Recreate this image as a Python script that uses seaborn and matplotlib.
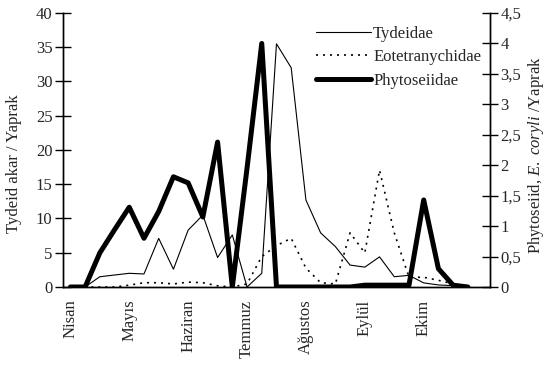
import numpy as np
import pandas as pd
import matplotlib
matplotlib.use("Agg")
import matplotlib.pyplot as plt
import seaborn as sns

# Weekly samples, April to October
weeks = list(range(29))
month_labels = ["Nisan", "Mayıs", "Haziran", "Temmuz", "Ağustos", "Eylül", "Ekim"]
month_weeks = [0, 4, 8, 12, 16, 20, 24]

# Tydeidae per leaf (left axis)
tydeidae = [0, 0, 1.5, 1.75, 2.0, 1.9, 7.1, 2.6, 8.3, 10.5, 4.3, 7.6, 0, 2.0,
            35.5, 32.0, 12.7, 7.9, 5.9, 3.2, 2.9, 4.4, 1.5, 1.7, 0.6, 0.3, 0.2,
            np.nan, np.nan]
# Eotetranychidae per leaf (right axis)
eotetranychidae = [0, 0, 0, 0, 0.03, 0.07, 0.07, 0.05, 0.08, 0.07, 0.02, 0,
                   0.05, 0.5, 0.68, 0.8, 0.31, 0.07, 0.05, 0.89, 0.56, 1.92,
                   0.89, 0.16, 0.16, 0.11, 0.05, np.nan, np.nan]
# Phytoseiidae per leaf (right axis)
phytoseiidae = [0, 0, 0.56, 0.94, 1.31, 0.80, 1.24, 1.81, 1.71, 1.15, 2.38, 0,
                1.95, 4.0, 0, 0, 0, 0, 0, 0, 0.03, 0.03, 0.03, 0.03, 1.43,
                0.3, 0.03, 0, np.nan]

df = pd.DataFrame({"week": weeks, "Tydeidae": tydeidae,
                   "Eotetranychidae": eotetranychidae,
                   "Phytoseiidae": phytoseiidae})

sns.set_style("white")
plt.rcParams["font.family"] = ["Liberation Serif", "DejaVu Serif"]
plt.rcParams["mathtext.fontset"] = "custom"
plt.rcParams["mathtext.it"] = "Liberation Serif:italic"
plt.rcParams["mathtext.rm"] = "Liberation Serif"

fig = plt.figure(figsize=(5.45, 3.65), dpi=100)
ax = fig.add_axes([0.1156, 0.2137, 0.899 - 0.1156, 0.9644 - 0.2137])
ax2 = ax.twinx()

sns.lineplot(data=df, x="week", y="Tydeidae", ax=ax, color="black",
             linewidth=0.8, label="Tydeidae", legend=False)
sns.lineplot(data=df, x="week", y="Eotetranychidae", ax=ax2, color="black",
             linewidth=1.2, linestyle=(0, (1.2, 3.0)), label="Eotetranychidae",
             legend=False)
sns.lineplot(data=df, x="week", y="Phytoseiidae", ax=ax2, color="black",
             linewidth=3.6, label="Phytoseiidae", legend=False)

ax.set_xlim(-0.5, 28.5)
ax.set_ylim(0, 40)
ax2.set_ylim(0, 4.5)

ax.set_yticks(np.arange(0, 41, 5))
ax.set_yticklabels([str(v) for v in range(0, 41, 5)], fontsize=12)
r_ticks = np.arange(0, 4.51, 0.5)
ax2.set_yticks(r_ticks)
ax2.set_yticklabels([("%g" % v).replace(".", ",") for v in r_ticks], fontsize=12)

ax.set_xticks(np.arange(-0.5, 28.6, 1.0))
ax.set_xticklabels([])
ax.set_xticks(month_weeks, minor=True)
ax.set_xticklabels(month_labels, minor=True, rotation=90, fontsize=12,
                   va="top", ha="center")
ax.tick_params(axis="x", which="major", direction="inout", length=11, width=1,
               color="black")
ax.tick_params(axis="x", which="minor", length=0, pad=9)
ax.tick_params(axis="y", direction="inout", length=11, width=1, color="black",
               pad=2)
ax2.tick_params(axis="y", direction="inout", length=11, width=1, color="black",
                pad=2)

ax.set_xlabel("")
ax.set_ylabel("Tydeid akar / Yaprak", fontsize=12)
ax.yaxis.set_label_coords(-0.096, 0.45)
ax2.set_ylabel(r"Phytoseiid, $E.\ coryli$ /Yaprak", fontsize=12)
ax2.yaxis.set_label_coords(1.085, 0.48)

for a in (ax, ax2):
    for side in ("left", "right", "bottom"):
        a.spines[side].set_visible(True)
        a.spines[side].set_color("black")
        a.spines[side].set_linewidth(1)
    a.spines["top"].set_visible(False)

handles = ax.get_lines()[:1] + ax2.get_lines()[:2]
fig.legend(handles, ["Tydeidae", "Eotetranychidae", "Phytoseiidae"],
           loc="upper right", bbox_to_anchor=(0.895, 0.948), frameon=False,
           fontsize=12, handlelength=3.3, handletextpad=0.15,
           labelspacing=0.45, borderaxespad=0)

fig.savefig("out.png", dpi=100)
